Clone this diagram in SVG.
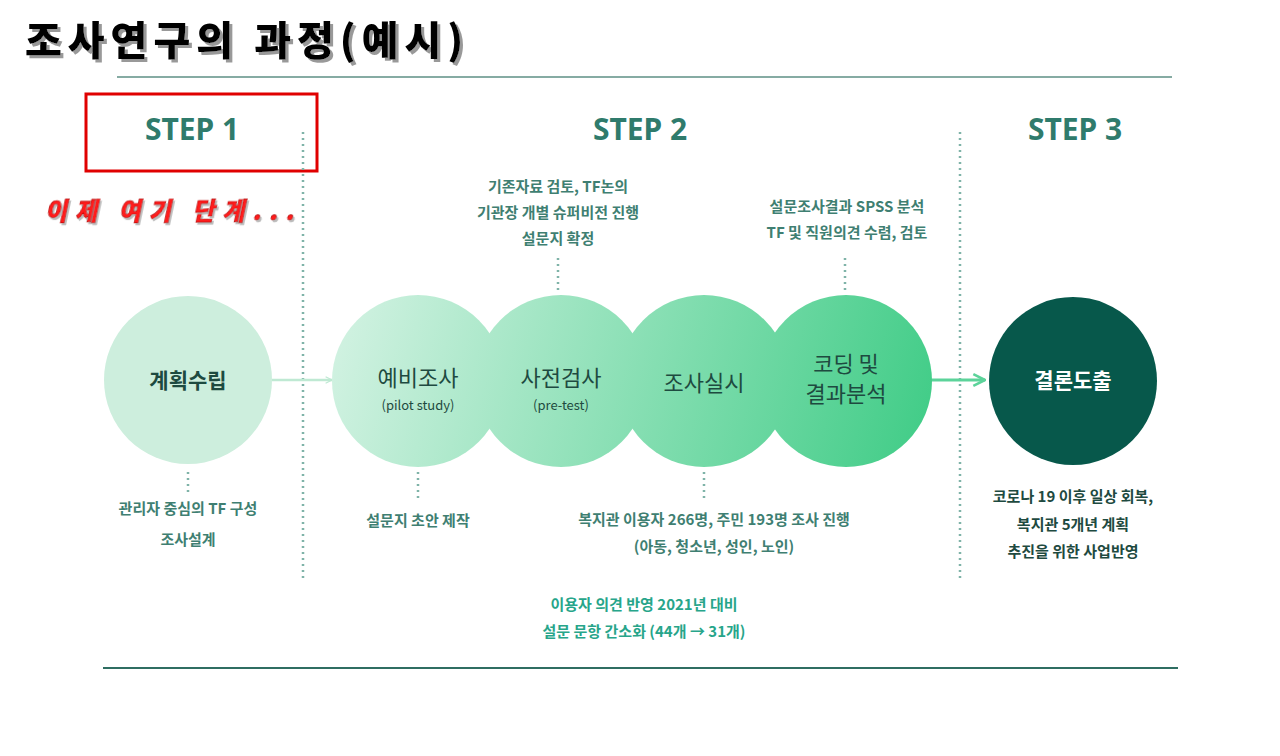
<svg xmlns="http://www.w3.org/2000/svg" width="1280" height="756" viewBox="0 0 1280 756">
<defs>
<linearGradient id="g" gradientUnits="userSpaceOnUse" x1="340" y1="300" x2="930" y2="465">
<stop offset="0" stop-color="#d2f2e2"/><stop offset="1" stop-color="#3fcc86"/>
</linearGradient>
<filter id="sh" x="-5%" y="-20%" width="115%" height="150%"><feDropShadow dx="3" dy="3" stdDeviation="0.5" flood-color="#999"/></filter>
<filter id="sh2" x="-5%" y="-20%" width="115%" height="150%"><feDropShadow dx="2" dy="2" stdDeviation="0.3" flood-color="#bbb"/></filter>
<marker id="ar" viewBox="0 0 10 10" refX="9" refY="5" markerWidth="8" markerHeight="8" orient="auto" markerUnits="userSpaceOnUse"><path d="M1,1 L9,5 L1,9" fill="none" stroke="#bfe9d3" stroke-width="1.5"/></marker>
<marker id="ar2" viewBox="0 0 12 12" refX="11" refY="6" markerWidth="14" markerHeight="14" orient="auto" markerUnits="userSpaceOnUse"><path d="M1,1 L11,6 L1,11" fill="none" stroke="#5cd39a" stroke-width="2.2"/></marker>
</defs>
<style>
.k{font-family:"Noto Sans CJK KR","Noto Sans",sans-serif}
.step{font-family:"Noto Sans","Noto Sans CJK KR",sans-serif;font-weight:700;font-size:30px;fill:#2f7b6c}
.note{font-family:"Noto Sans CJK KR",sans-serif;font-size:15px;font-weight:700;fill:#3f7f72;text-anchor:middle}
.dot{stroke:#7fb3a8;stroke-width:2.5;stroke-dasharray:2 4;fill:none}
.c{text-anchor:middle;fill:#1e4a40}
</style>
<rect width="1280" height="756" fill="#fff"/>
<text x="25" y="55" class="k" font-size="40" font-weight="900" fill="#000" letter-spacing="6" filter="url(#sh)">조사연구의 과정(예시)</text>
<line x1="117" y1="77" x2="1172" y2="77" stroke="#5e8f85" stroke-width="1.5"/>
<line x1="103" y1="668" x2="1178" y2="668" stroke="#2f6e62" stroke-width="2"/>
<rect x="86" y="94" width="231" height="77" fill="none" stroke="#e00000" stroke-width="3"/>
<text x="192" y="140" class="step" text-anchor="middle">STEP 1</text>
<text x="640" y="140" class="step" text-anchor="middle">STEP 2</text>
<text x="1075" y="140" class="step" text-anchor="middle">STEP 3</text>
<text x="46" y="220" class="k" font-size="24" font-weight="900" fill="#ff1a1a" stroke="#a00" stroke-width="0.6" transform="skewX(-12) translate(46 0)" letter-spacing="8" filter="url(#sh2)">이제 여기 단계...</text>
<g id="dividers">
<line x1="303" y1="132" x2="303" y2="578" class="dot"/>
<line x1="960" y1="132" x2="960" y2="578" class="dot"/>
</g>
<g id="connectors">
<line x1="272" y1="380" x2="332" y2="380" stroke="#bfe9d3" stroke-width="2.5" marker-end="url(#ar)"/>
<line x1="930" y1="380" x2="985" y2="380" stroke="#5cd39a" stroke-width="3" marker-end="url(#ar2)"/>
<line x1="558" y1="258" x2="558" y2="290" class="dot"/>
<line x1="845" y1="258" x2="845" y2="290" class="dot"/>
<line x1="188" y1="472" x2="188" y2="494" class="dot"/>
<line x1="418" y1="472" x2="418" y2="500" class="dot"/>
<line x1="704" y1="472" x2="704" y2="500" class="dot"/>
</g>
<g id="n-plan"><circle cx="188" cy="380" r="84" fill="#cdeedd"/><text x="188" y="388" class="k c" font-size="21" font-weight="700">계획수립</text></g>
<g id="n-pilot"><circle cx="418" cy="381" r="86" fill="url(#g)"/><text x="418" y="386" class="k c" font-size="22">예비조사</text><text x="418" y="410" class="k c" font-size="13">(pilot study)</text></g>
<g id="n-pre"><circle cx="561" cy="381" r="86" fill="url(#g)"/><text x="561" y="386" class="k c" font-size="22">사전검사</text><text x="561" y="410" class="k c" font-size="13">(pre-test)</text></g>
<g id="n-survey"><circle cx="704" cy="381" r="86" fill="url(#g)"/><text x="704" y="391" class="k c" font-size="22">조사실시</text></g>
<g id="n-coding"><circle cx="846" cy="381" r="86" fill="url(#g)"/><text x="846" y="372" class="k c" font-size="22">코딩 및</text><text x="846" y="402" class="k c" font-size="22">결과분석</text></g>
<g id="n-result"><circle cx="1073" cy="381" r="84" fill="#07584b"/><text x="1073" y="388" class="k" text-anchor="middle" font-size="21" font-weight="700" fill="#fff">결론도출</text></g>
<g id="notes">
<text class="note" x="558" y="192">기존자료 검토, TF논의</text>
<text class="note" x="558" y="218">기관장 개별 슈퍼비전 진행</text>
<text class="note" x="558" y="244">설문지 확정</text>
<text class="note" x="847" y="212">설문조사결과 SPSS 분석</text>
<text class="note" x="847" y="238">TF 및 직원의견 수렴, 검토</text>
<text class="note" x="188" y="514">관리자 중심의 TF 구성</text>
<text class="note" x="188" y="545">조사설계</text>
<text class="note" x="418" y="526">설문지 초안 제작</text>
<text class="note" x="714" y="525">복지관 이용자 266명, 주민 193명 조사 진행</text>
<text class="note" x="714" y="552">(아동, 청소년, 성인, 노인)</text>
<text class="note" x="1073" y="502" style="fill:#1e4a40">코로나 19 이후 일상 회복,</text>
<text class="note" x="1073" y="530" style="fill:#1e4a40">복지관 5개년 계획</text>
<text class="note" x="1073" y="557" style="fill:#1e4a40">추진을 위한 사업반영</text>
<text class="note" x="644" y="610" style="fill:#27a58a">이용자 의견 반영 2021년 대비</text>
<text class="note" x="644" y="637" style="fill:#27a58a">설문 문항 간소화 (44개 → 31개)</text>
</g>
</svg>
